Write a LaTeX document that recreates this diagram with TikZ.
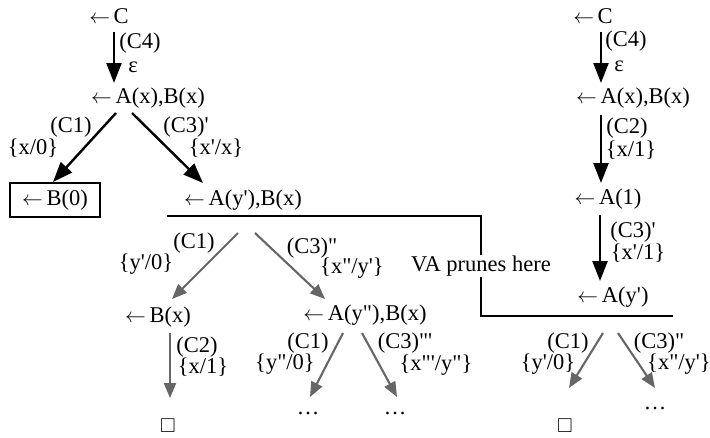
\documentclass[tikz,border=0pt]{standalone}
\usepackage{amssymb}
\usepackage{fontspec}
\setmainfont{Liberation Serif}
\usetikzlibrary{arrows.meta,calc}
\newcommand{\sq}{\textquotesingle}
\newcommand{\dq}{\textquotedbl}
\newcommand{\la}{$\leftarrow$\,}
\newcommand{\emptybox}{{\fontsize{20}{20}\selectfont$\square$}}
\begin{document}
\begin{tikzpicture}[x=1pt,y=-1pt,
  every node/.style={font=\fontsize{22.5}{25}\selectfont, inner sep=1pt},
  blk/.style={line width=2.4pt, -{Triangle[width=15pt,length=20pt]}},
  gry/.style={draw=black!60, line width=2.1pt, -{Triangle[width=12pt,length=15pt]}},
  rulel/.style={line width=1.3pt},
  boxed/.style={draw, line width=1.3pt, minimum width=90pt, minimum height=34pt}]
\useasboundingbox (0,0) rectangle (710,437);

% ---------- left tree ----------
\node (lc)  at (109,16)  {\la C};
\node (lax) at (148,98)  {\la A(x),B(x)};
\node[boxed] (lb0) at (55,200) {\la B(0)};
\node (lay) at (243,200) {\la A(y\sq),B(x)};
\node (lbx) at (158,317) {\la B(x)};
\node (lay2) at (365,315) {\la A(y\dq),B(x)};
\node (lsq) at (168,426) {\emptybox};
\node (ld1) at (308,413) {\dots};
\node (ld2) at (395,413) {\dots};

\node (t1) at (140,43) {(C4)};
\node (t2) at (133,67) {ε};
\node (t3) at (71,127) {(C1)};
\node (t4) at (33,148) {\{x/0\}};
\node (t5) at (186,127) {(C3)\sq};
\node (t6) at (216,148) {\{x\sq/x\}};
\node (t7) at (194,243) {(C1)};
\node (t8) at (146,264) {\{y\sq/0\}};
\node (t9) at (312,248) {(C3)\dq};
\node (t10) at (352,268) {\{x\dq/y\sq\}};
\node (t11) at (197,347) {(C2)};
\node (t12) at (203,367) {\{x/1\}};
\node (t13) at (308,343) {(C1)};
\node (t14) at (285,364) {\{y\dq/0\}};
\node (t15) at (405,343) {(C3)\dq\sq};
\node (t16) at (436,365) {\{x\dq\sq/y\dq\}};

\draw[blk] ($(lc)+(5,16)$) -- ($(lax)+(-34,-15)$);
\draw[blk] ($(lax)+(-32,15)$) -- ($(lb0)+(-2,-18)$);
\draw[blk] ($(lax)+(-16,15)$) -- ($(lay)+(-40,-17)$);
\draw[gry] ($(lay)+(-5,33)$) -- ($(lbx)+(14,-18)$);
\draw[gry] ($(lay)+(12,33)$) -- ($(lay2)+(-40,-16)$);
\draw[gry] ($(lbx)+(12,16)$) -- ($(lsq)+(2,-28)$);
\draw[gry] ($(lay2)+(-22,18)$) -- ($(ld1)+(2,-16)$);
\draw[gry] ($(lay2)+(-3,18)$) -- ($(ld2)+(2,-16)$);

% ---------- pruning line ----------
\node (va) at (481,266) {VA prunes here};
\coordinate (ls) at (167,216);
\coordinate (re) at (673,316);
\draw[rulel] (ls) -| (va.north);
\draw[rulel] (va.south) |- (re);

% ---------- right tree ----------
\node (rc)  at (593,16)  {\la C};
\node (rax) at (633,98)  {\la A(x),B(x)};
\node (ra1) at (608,199) {\la A(1)};
\node (ray) at (613,297) {\la A(y\sq)};
\node (rsq) at (565,426) {\emptybox};
\node (rd)  at (655,408) {\dots};

\node (u1) at (626,41) {(C4)};
\node (u2) at (619,66) {ε};
\node (u3) at (627,128) {(C2)};
\node (u4) at (631,150) {\{x/1\}};
\node (u5) at (633,232) {(C3)\sq};
\node (u6) at (638,253) {\{x\sq/1\}};
\node (u7) at (568,343) {(C1)};
\node (u8) at (548,364) {\{y\sq/0\}};
\node (u9) at (659,343) {(C3)\dq};
\node (u10) at (679,364) {\{x\dq/y\sq\}};

\draw[blk] ($(rc)+(8,16)$) -- ($(rax)+(-32,-15)$);
\draw[blk] ($(rax)+(-32,17)$) -- ($(ra1)+(-7,-16)$);
\draw[blk] ($(ra1)+(-8,16)$) -- ($(ray)+(-13,-16)$);
\draw[gry] ($(ray)+(-10,36)$) -- ($(rsq)+(4,-38)$);
\draw[gry] ($(ray)+(5,36)$) -- ($(rd)+(0,-20)$);
\end{tikzpicture}
\end{document}
